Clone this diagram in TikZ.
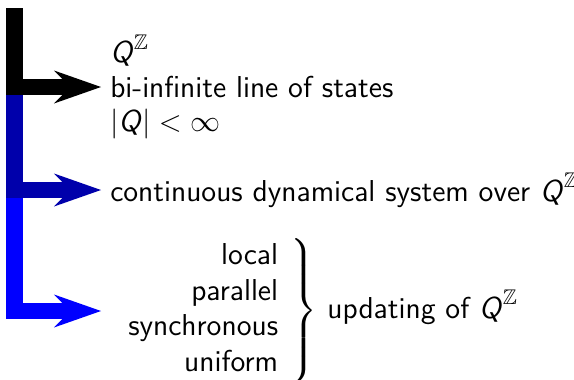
\documentclass[tikz,border=0pt]{standalone}
\usepackage{amsmath,amssymb}
\usetikzlibrary{arrows.meta}

\newcommand{\Qs}{\textsf{\textit{Q}}}
\colorlet{darkblue}{blue!67!black}

\begin{document}
\begin{tikzpicture}
  [x=0.4pt,y=-0.4pt,
   every node/.style={font=\fontsize{12.1}{13.8}\selectfont\sffamily},
   branch/.style={line width=6.4pt,line join=miter,
     -{Stealth[length=18.8pt,width=13.2pt,inset=6.4pt,line width=0pt]}}]
  \useasboundingbox (0,0) rectangle (574,380);

  \coordinate (c1) at (14.5,8);
  \coordinate (c2) at (14.5,95);
  \coordinate (c3) at (14.5,198);

  \node[anchor=west,align=left,inner sep=3.5pt] (n1) at (101,87)
    {$\Qs^{\mathbb{Z}}$\\bi-infinite line of states\\$|\Qs|<\infty$};
  \node[anchor=west,inner sep=3.5pt] (n2) at (101,190)
    {continuous dynamical system over $\Qs^{\mathbb{Z}}$};
  \node[anchor=west,inner sep=4.5pt] (n3) at (101,311)
    {$\renewcommand{\arraystretch}{1.03}\left.\begin{array}{r}
      \text{local}\\ \text{parallel}\\ \text{synchronous}\\ \text{uniform}
     \end{array}\right\}$ updating of $\Qs^{\mathbb{Z}}$};

  \draw[branch,black] (c1) |- (n1.west);
  \draw[branch,darkblue] (c2) |- (n2.west);
  \draw[branch,blue] (c3) |- (n3.west);
\end{tikzpicture}
\end{document}
